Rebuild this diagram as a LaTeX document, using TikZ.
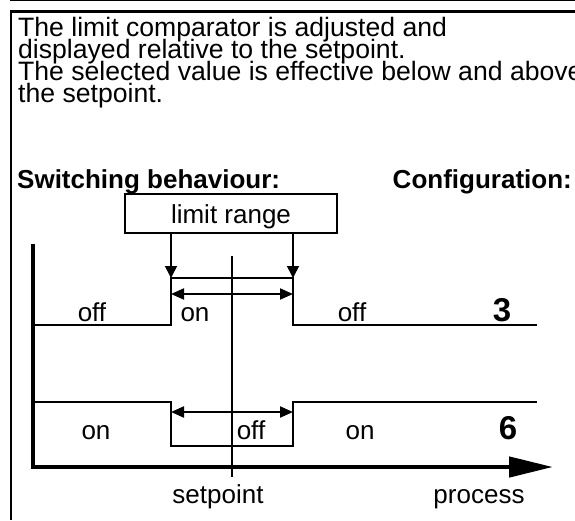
\documentclass[tikz,border=0pt]{standalone}
\usepackage{fontspec}
\setmainfont{Liberation Sans}
\usetikzlibrary{arrows.meta}
\begin{document}
\begin{tikzpicture}[x=1pt,y=-1pt,
  txt/.style={font=\fontsize{26.6}{22}\selectfont, inner sep=0pt, anchor=base west},
  btxt/.style={font=\bfseries\fontsize{26}{22}\selectfont, inner sep=0pt, anchor=base west},
  lbl/.style={font=\fontsize{26}{22}\selectfont, inner sep=0pt, anchor=base},
  num/.style={font=\bfseries\fontsize{33}{33}\selectfont, inner sep=0pt, anchor=base},
  frame/.style={line width=2pt},
  rowline/.style={line width=2.4pt, line join=miter},
  dn/.style={line width=1.6pt, -{Triangle[length=12pt,width=12pt]}},
  dbl/.style={line width=2pt, {Triangle[length=13pt,width=11pt]}-{Triangle[length=13pt,width=11pt]}},
  axis/.style={line width=4.5pt},
  spline/.style={line width=2pt},
  boxst/.style={draw, line width=2pt, minimum width=212pt, minimum height=39pt, inner sep=0pt,
     text height=19pt, text depth=0pt, font=\fontsize{26}{22}\selectfont}
]
\clip (0,0) rectangle (575,520);
\fill[white] (0,0) rectangle (575,520);

% frame
\draw[line width=1pt] (10,0.8) -- (575,0.8);
\draw[line width=3pt] (10,11) -- (575,11);
\draw[frame] (11,10) -- (11,520);

% texts
\node[txt] (l1) at (18,36) {The limit comparator is adjusted and};
\node[txt] (l2) at (18,58) {displayed relative to the setpoint.};
\node[txt] (l3) at (18,80) {The selected value is effective below and above};
\node[txt] (l4) at (18,102) {the setpoint.};
\node[btxt] (sw) at (17,188) {Switching behaviour:};
\node[btxt, anchor=base east] (cf) at (572,188) {Configuration:};

% limit range box
\node[boxst] (lr) at (231,213.5) {limit range};

% coordinates
\coordinate (a1) at (171,278);
\coordinate (a2) at (293,278);
\coordinate (sptop) at (232,256);
\coordinate (spbot) at (232,477);
\coordinate (ytop) at (33,246);
\coordinate (o) at (33,467);
\coordinate (xend) at (553,467);

% setpoint line
\draw[spline] (sptop) -- (spbot);

% axes
\draw[axis, line cap=rect] (ytop) -- (o);
\draw[axis, -{Triangle[length=44pt,width=20pt]}] (o) -- (xend);

% arrows from box
\draw[dn] (lr.south -| a1) -- (a1);
\draw[dn] (lr.south -| a2) -- (a2);

% configuration 3
\draw[rowline] (33,325) -- (171,325) -- (a1) -- (a2) -- (293,325) -- (537,325);
\draw[dbl] (171,294) -- (293,294);
\node[lbl] (t3a) at (92,321) {off};
\node[lbl] (t3b) at (195,321) {on};
\node[lbl] (t3c) at (352,321) {off};
\node[num] (n3) at (502,321) {3};

% configuration 6
\draw[rowline, line width=2pt] (33,402) -- (171,402) -- (171,446) -- (293,446) -- (293,402) -- (537,402);
\draw[dbl] (171,412) -- (293,412);
\node[lbl] (t6a) at (96,439) {on};
\node[lbl] (t6b) at (251,439) {off};
\node[lbl] (t6c) at (360,439) {on};
\node[num] (n6) at (508,439) {6};

% axis labels
\node[lbl] (spl) at (218,503) {setpoint};
\node[lbl] (prl) at (479,503) {process};
\end{tikzpicture}
\end{document}
